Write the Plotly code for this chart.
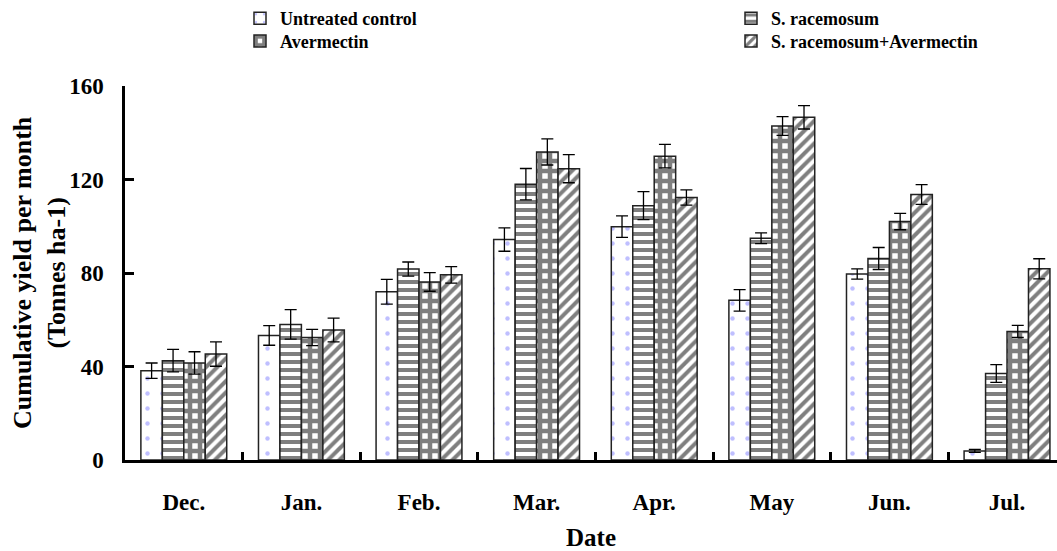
import plotly.graph_objects as go

# Monthly categories on the x axis
months = ["Dec.", "Jan.", "Feb.", "Mar.", "Apr.", "May", "Jun.", "Jul."]

# Cumulative yield per month (Tonnes ha-1) and standard errors
untreated = [38.2, 53.3, 72.0, 94.3, 99.8, 68.3, 79.6, 3.9]
untreated_err = [3.3, 4.2, 5.3, 5.0, 4.6, 4.6, 2.2, 0.6]

racemosum = [42.5, 58.0, 81.7, 118.0, 108.8, 94.9, 86.2, 37.0]
racemosum_err = [4.8, 6.3, 3.0, 6.7, 6.0, 2.3, 4.7, 3.8]

avermectin = [41.5, 52.4, 76.2, 131.8, 130.0, 142.9, 102.0, 55.0]
avermectin_err = [4.8, 3.5, 4.0, 5.6, 5.0, 4.0, 3.5, 2.6]

combined = [45.3, 55.6, 79.2, 124.6, 112.3, 146.6, 113.6, 81.8]
combined_err = [5.2, 5.1, 3.5, 6.0, 3.3, 5.0, 4.2, 4.3]

y_ticks = [0, 40, 80, 120, 160]

FONT = "Liberation Serif"

W, H = 1057, 551
ML, MR, MT, MB = 125, 0, 84, 89
PW = W - ML - MR
PH = H - MT - MB


def px_x(px):
    return (px - ML) / PW


def px_y(py):
    return (H - MB - py) / PH


# name, values, errors, fill pattern, legend id, legend left/top in pixels
series = [
    ("Untreated control", untreated, untreated_err,
     dict(shape=".", fgcolor="#8080ff", bgcolor="white", size=15, solidity=0.07),
     "legend", 240, -3),
    ("S. racemosum", racemosum, racemosum_err,
     dict(shape="-", fgcolor="black", bgcolor="white", size=8, solidity=0.5),
     "legend2", 731, -3),
    ("Avermectin", avermectin, avermectin_err,
     dict(shape="+", fgcolor="black", bgcolor="white", size=10, solidity=0.7),
     "legend3", 240, 20),
    ("S. racemosum+Avermectin", combined, combined_err,
     dict(shape="/", fgcolor="black", bgcolor="white", size=8, solidity=0.5),
     "legend4", 731, 20),
]

fig = go.Figure()
legends = {}
for name, vals, errs, pattern, leg, lx, ly in series:
    fig.add_trace(go.Bar(
        name=name,
        x=months,
        y=vals,
        error_y=dict(type="data", array=errs, visible=True,
                     color="black", thickness=1.3, width=6),
        marker=dict(color="white", pattern=pattern,
                    line=dict(color="#222222", width=1.5)),
        legend=leg,
        showlegend=True,
    ))
    legends[leg] = dict(
        orientation="v",
        x=px_x(lx),
        xanchor="left",
        y=px_y(ly),
        yanchor="top",
        font=dict(family=FONT, size=18, color="black", weight="bold"),
        bgcolor="rgba(0,0,0,0)",
        borderwidth=0,
    )

fig.update_layout(
    width=W,
    height=H,
    margin=dict(l=ML, r=MR, t=MT, b=MB),
    paper_bgcolor="white",
    plot_bgcolor="white",
    showlegend=True,
    barmode="group",
    bargap=0.27,
    bargroupgap=0,
    font=dict(family=FONT, color="black"),
    **legends,
    xaxis=dict(
        range=[-0.5, 7.425],
        showline=True,
        linecolor="black",
        linewidth=2.5,
        ticks="inside",
        tickson="boundaries",
        ticklen=8,
        tickwidth=3,
        tickcolor="black",
        showgrid=False,
        tickfont=dict(family=FONT, size=23, color="black", weight="bold"),
        ticklabelstandoff=20,
        title=dict(text="<b>Date</b>",
                   font=dict(family=FONT, size=25, color="black"),
                   standoff=18),
    ),
    yaxis=dict(
        range=[0, 160],
        tickvals=y_ticks,
        showline=True,
        linecolor="black",
        linewidth=2.5,
        ticks="inside",
        ticklen=9,
        tickwidth=3,
        tickcolor="black",
        showgrid=False,
        zeroline=False,
        tickfont=dict(family=FONT, size=23, color="black", weight="bold"),
        ticklabelstandoff=14,
    ),
    annotations=[dict(
        text="<b>Cumulative yield per month<br>(Tonnes ha-1)</b>",
        xref="paper", yref="paper",
        x=px_x(39), y=0.5,
        xanchor="center", yanchor="middle",
        textangle=-90,
        showarrow=False,
        font=dict(family=FONT, size=26, color="black"),
    )],
)

fig.write_html("out.html")
